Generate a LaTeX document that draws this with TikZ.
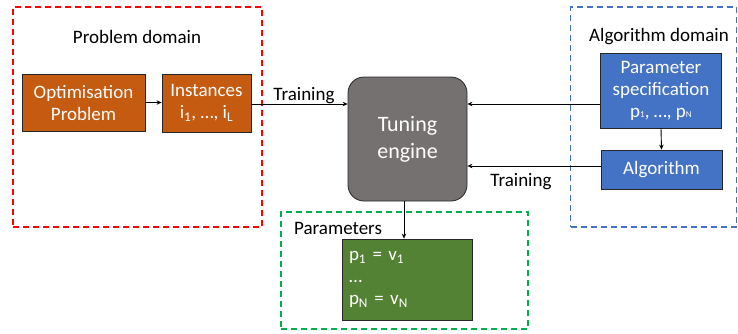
\documentclass[tikz,border=0pt]{standalone}
\usepackage{fontspec}
\setmainfont{Carlito}
\usetikzlibrary{arrows.meta}
\definecolor{orng}{HTML}{C55A11}
\definecolor{tgray}{HTML}{767171}
\definecolor{bluebox}{HTML}{4472C4}
\definecolor{grnbox}{HTML}{548235}
\definecolor{reddash}{HTML}{FF0000}
\definecolor{bluedash}{HTML}{4472C4}
\definecolor{grndash}{HTML}{00B050}
\tikzset{
  domainbox/.style={draw, line width=1.3pt, dash pattern=on 6pt off 4pt, inner sep=0pt},
  solidbox/.style={draw=black!85, line width=0.8pt, text=white, align=center, inner sep=0pt,
    font=\fontsize{19}{22}\selectfont},
  conn/.style={line width=0.9pt, -{Stealth[length=5pt,width=4.5pt]}},
  lbl/.style={font=\fontsize{19}{22}\selectfont, inner sep=0pt},
}
\begin{document}
\begin{tikzpicture}[x=1pt,y=-1pt]
\useasboundingbox (0,0) rectangle (738,333);
% domain boxes
\node[domainbox, draw=reddash, minimum width=249pt, minimum height=220pt] (probdom) at (137.5,117) {};
\node[domainbox, draw=bluedash, minimum width=166pt, minimum height=220pt] (algdom) at (653.5,117) {};
\node[domainbox, draw=grndash, minimum width=247pt, minimum height=117pt] (pardom) at (404.5,270.5) {};
\node[lbl] (probt) at (137,37) {Problem domain};
\node[lbl] (algt) at (659,37) {Algorithm domain};
\node[lbl, anchor=west] (part) at (294,228) {Parameters};
% boxes
\node[solidbox, fill=orng, minimum width=123pt, minimum height=57pt] (opt) at (83.5,102.5) {Optimisation\\Problem};
\node[solidbox, fill=orng, minimum width=89pt, minimum height=58pt] (inst) at (206.5,103) {Instances\\i\textsubscript{1}, …, i\textsubscript{L}};
\node[solidbox, fill=tgray, rounded corners=16pt, minimum width=119pt, minimum height=124pt,
  font=\fontsize{22}{27}\selectfont] (tune) at (407.5,139) {Tuning\\engine};
\node[solidbox, fill=bluebox, minimum width=121pt, minimum height=75pt] (spec) at (661,90.5)
  {Parameter\\specification\\p{\fontsize{9}{9}\selectfont 1}, …, p{\fontsize{9}{9}\selectfont N}};
\node[solidbox, fill=bluebox, minimum width=121pt, minimum height=39pt] (alg) at (661.5,169.5) {Algorithm};
\node[solidbox, fill=grnbox, minimum width=130pt, minimum height=81pt, align=left,
  text width=116pt] (pars) at (407,279.5)
  {p\textsubscript{1} = v\textsubscript{1}\\…\\p\textsubscript{N} = v\textsubscript{N}};
% labels
\node[lbl] (tr1) at (304,96) {Training};
\node[lbl] (tr2) at (521,182) {Training};
% connectors
\draw[conn] (opt.east) -- (inst.west |- opt.east);
\draw[conn] (inst.east |- 0,104) -- (tune.west |- 0,104);
\draw[conn] (spec.west |- 0,104) -- (tune.east |- 0,104);
\draw[conn] (alg.west |- 0,166) -- (tune.east |- 0,166);
\draw[conn] (spec.south) -- (alg.north);
\draw[conn] (tune.south -| 404,0) -- (pars.north -| 404,0);
\end{tikzpicture}
\end{document}
